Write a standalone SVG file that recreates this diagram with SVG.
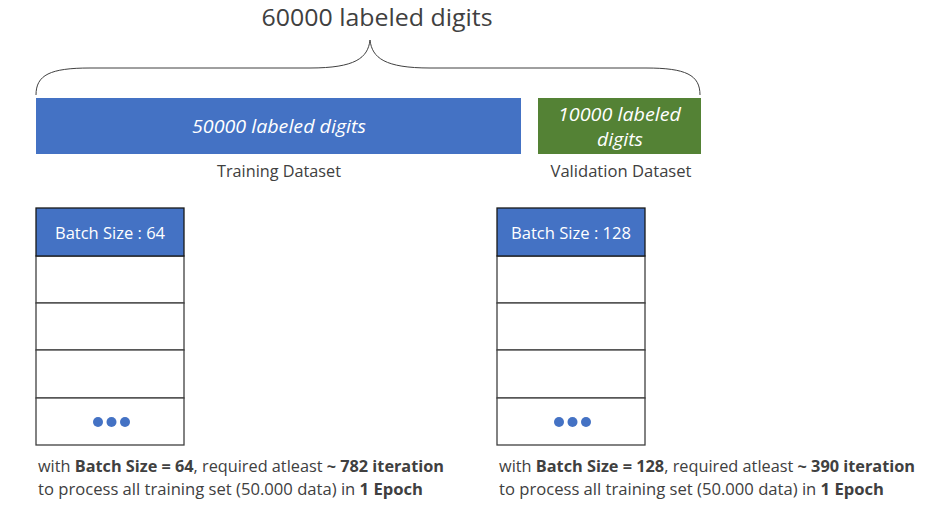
<svg xmlns="http://www.w3.org/2000/svg" width="934" height="508" viewBox="0 0 934 508">
<style>
text{font-family:"Open Sans","Liberation Sans",sans-serif;}
.t{fill:#404040;}
.w{fill:#ffffff;}
.cell{fill:#ffffff;stroke:#404040;stroke-width:1.3;}
.hdr{fill:#4472C4;stroke:#1a1a1a;stroke-width:1.3;}
.dot{fill:#4472C4;}
</style>
<rect width="934" height="508" fill="#ffffff"/>
<g id="title">
<text class="t" x="377" y="26" font-size="24" text-anchor="middle" textLength="231" lengthAdjust="spacingAndGlyphs">60000 labeled digits</text>
</g>
<g id="connectors">
<path d="M36,95 C36,75 50,68 90,68 L310,68 C355,68 368,58 370,40 C372,58 385,68 430,68 L646,68 C686,68 700,75 700,95" fill="none" stroke="#404040" stroke-width="1"/>
</g>
<g id="training">
<rect x="36" y="98" width="485" height="56" fill="#4472C4"/>
<text class="w" x="279" y="133" font-size="19" font-style="italic" text-anchor="middle" textLength="174" lengthAdjust="spacingAndGlyphs">50000 labeled digits</text>
<text class="t" x="279" y="177" font-size="16" text-anchor="middle" textLength="124" lengthAdjust="spacingAndGlyphs">Training Dataset</text>
</g>
<g id="validation">
<rect x="538" y="98" width="163" height="56" fill="#548235"/>
<text class="w" x="619.5" y="121" font-size="19" font-style="italic" text-anchor="middle" textLength="123" lengthAdjust="spacingAndGlyphs">10000 labeled</text>
<text class="w" x="620" y="146" font-size="19" font-style="italic" text-anchor="middle" textLength="46" lengthAdjust="spacingAndGlyphs">digits</text>
<text class="t" x="621" y="177" font-size="16" text-anchor="middle" textLength="141" lengthAdjust="spacingAndGlyphs">Validation Dataset</text>
</g>
<g id="batch64">
<rect class="cell" x="36" y="256" width="148" height="47"/>
<rect class="cell" x="36" y="303" width="148" height="47"/>
<rect class="cell" x="36" y="350" width="148" height="48"/>
<rect class="cell" x="36" y="398" width="148" height="47"/>
<rect class="hdr" x="36" y="208" width="148" height="48"/>
<text class="w" x="110" y="239" font-size="16" text-anchor="middle" textLength="110" lengthAdjust="spacingAndGlyphs">Batch Size : 64</text>
<circle class="dot" cx="98" cy="422" r="5"/>
<circle class="dot" cx="111.5" cy="422" r="5"/>
<circle class="dot" cx="125" cy="422" r="5"/>
</g>
<g id="batch128">
<rect class="cell" x="497" y="256" width="148" height="47"/>
<rect class="cell" x="497" y="303" width="148" height="47"/>
<rect class="cell" x="497" y="350" width="148" height="48"/>
<rect class="cell" x="497" y="398" width="148" height="47"/>
<rect class="hdr" x="497" y="208" width="148" height="48"/>
<text class="w" x="571" y="239" font-size="16" text-anchor="middle" textLength="120" lengthAdjust="spacingAndGlyphs">Batch Size : 128</text>
<circle class="dot" cx="559" cy="422" r="5"/>
<circle class="dot" cx="572.5" cy="422" r="5"/>
<circle class="dot" cx="586" cy="422" r="5"/>
</g>
<g id="note64">
<text class="t" x="38" y="472" font-size="16" textLength="406" lengthAdjust="spacingAndGlyphs">with <tspan font-weight="bold">Batch Size = 64</tspan>, required atleast <tspan font-weight="bold">~ 782 iteration</tspan></text>
<text class="t" x="38" y="495" font-size="16" textLength="385" lengthAdjust="spacingAndGlyphs">to process all training set (50.000 data) in <tspan font-weight="bold">1 Epoch</tspan></text>
</g>
<g id="note128">
<text class="t" x="499" y="472" font-size="16" textLength="416" lengthAdjust="spacingAndGlyphs">with <tspan font-weight="bold">Batch Size = 128</tspan>, required atleast <tspan font-weight="bold">~ 390 iteration</tspan></text>
<text class="t" x="499" y="495" font-size="16" textLength="385" lengthAdjust="spacingAndGlyphs">to process all training set (50.000 data) in <tspan font-weight="bold">1 Epoch</tspan></text>
</g>
</svg>
